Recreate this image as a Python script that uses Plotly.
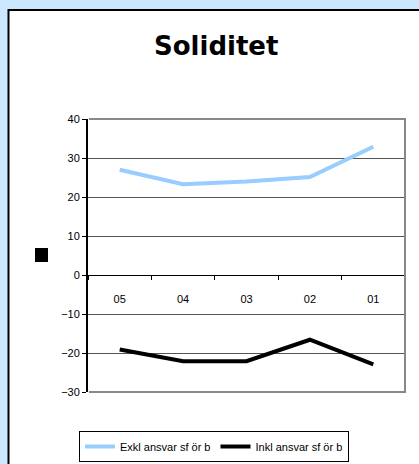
import plotly.graph_objects as go

categories = ["05", "04", "03", "02", "01"]
exkl = [27.0, 23.3, 24.0, 25.1, 32.9]
inkl = [-19.1, -22.1, -22.1, -16.6, -22.9]
series_names = ["Exkl ansvar sf ör b", "Inkl ansvar sf ör b"]
y_ticks = [-30, -20, -10, 0, 10, 20, 30, 40]

W, H = 419, 464
L, R, T, B = 88, 14, 119, 72
pw, ph = W - L - R, H - T - B


def px(x):
    return (x - L) / pw


def py(y):
    return (H - B - y) / ph


fig = go.Figure()
fig.add_trace(go.Scatter(x=categories, y=exkl, mode="lines", name=series_names[0],
                         line=dict(color="#99CCFF", width=4)))
fig.add_trace(go.Scatter(x=categories, y=inkl, mode="lines", name=series_names[1],
                         line=dict(color="#000000", width=4)))

panel_path = "M {x0},{y0} L {x0},{y1} L {x1},{y1}".format(
    x0=px(8.5), y0=py(H), y1=py(10), x1=px(W))

fig.update_layout(
    width=W, height=H, autosize=False,
    margin=dict(l=L, r=R, t=T, b=B, autoexpand=False),
    paper_bgcolor="#CCE8FF",
    plot_bgcolor="white",
    font=dict(family="Arial, Liberation Sans", size=11, color="black"),
    showlegend=True,
    legend=dict(orientation="h", xref="container", yref="container",
                x=214 / W, y=1 - 431 / H, xanchor="center", yanchor="top",
                bordercolor="black", borderwidth=1, bgcolor="white",
                font=dict(family="Arial, Liberation Sans", size=11, color="black"),
                itemwidth=30, tracegroupgap=0),
    xaxis=dict(type="category", anchor="free", position=30 / 70, automargin=False,
               range=[-0.5, len(categories) - 0.5],
               showline=True, linecolor="black", linewidth=1,
               ticks="outside", tickson="boundaries", ticklen=4, tickcolor="black",
               ticklabelstandoff=14, showgrid=False, fixedrange=True),
    yaxis=dict(range=[-30, 40], tickvals=y_ticks, showline=True, linecolor="black",
               automargin=False,
               linewidth=2, ticks="outside", ticklen=4, tickcolor="black",
               showgrid=True, gridcolor="#555555", gridwidth=1, zeroline=False,
               fixedrange=True),
    shapes=[
        dict(type="rect", xref="paper", yref="paper", layer="below",
             x0=px(8), x1=px(W), y0=py(H), y1=py(10),
             fillcolor="white", line=dict(width=0)),
        dict(type="path", xref="paper", yref="paper", layer="below",
             path=panel_path, line=dict(color="black", width=2)),
        dict(type="path", xref="paper", yref="paper", layer="above",
             path="M 0.003,1 L 1,1 L 1,0 L 0.003,0",
             line=dict(color="#888888", width=2)),
        dict(type="rect", xref="paper", yref="paper",
             x0=px(35), x1=px(48), y0=py(262), y1=py(248),
             fillcolor="black", line=dict(width=0)),
    ],
    annotations=[
        dict(text="<b>Soliditet</b>", xref="paper", yref="paper", x=px(216), y=py(46),
             xanchor="center", yanchor="middle", showarrow=False,
             font=dict(family="DejaVu Sans", size=26, color="black")),
    ],
)

fig.write_html(
    "out.html",
    config={"displayModeBar": False, "responsive": False},
    post_script=(
        "document.documentElement.style.margin='0';"
        "document.documentElement.style.overflow='hidden';"
        "document.body.style.margin='0';document.body.style.padding='0';"
        "document.body.style.overflow='hidden';"
    ),
)
